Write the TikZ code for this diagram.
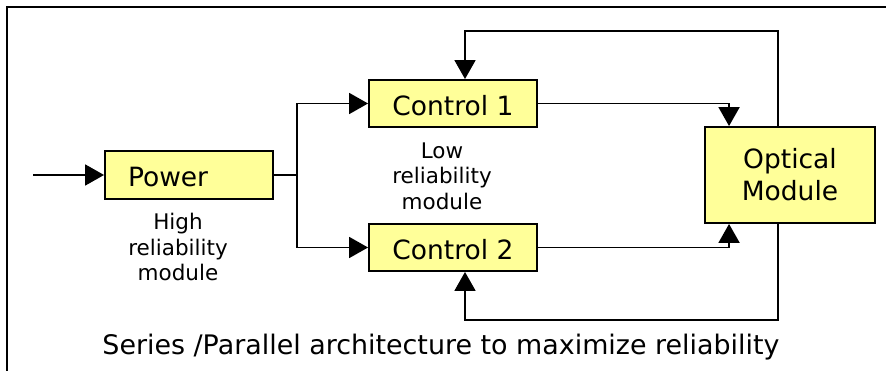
\documentclass[tikz,border=0pt]{standalone}
\usepackage{fontspec}
\setmainfont{DejaVu Sans}
\usetikzlibrary{arrows.meta,calc}
\definecolor{boxfill}{HTML}{FFFF99}
\begin{document}
\begin{tikzpicture}[x=1pt,y=-1pt,
  box/.style={draw=black, line width=1.9pt, fill=boxfill, inner sep=0pt,
    font=\fontsize{26.5}{32}\selectfont, text height=24pt, text depth=0pt},
  conn/.style={line width=1.9pt, -{Triangle[length=19pt,width=21pt]}},
  line/.style={line width=1.9pt},
  note/.style={font=\fontsize{21.5}{25.5}\selectfont, align=center, inner sep=0pt},
  frame/.style={line width=1.9pt}]
\useasboundingbox (0,0) rectangle (886,371);
\draw[frame] (7,371) -- (7,7) -- (886,7);

\node[box, minimum height=48pt, text width=122pt, inner xsep=23pt, align=left] (power) at (189,175) {Power};
\node[box, minimum width=168pt, minimum height=47pt] (c1) at (453,103.5) {Control 1};
\node[box, minimum width=168pt, minimum height=47pt] (c2) at (453,247.5) {Control 2};
\node[box, minimum width=170pt, minimum height=96pt, align=center, text height=, text depth=] (opt) at (790,175) {Optical\\Module};

\coordinate (in) at (33,175);
\coordinate (j) at (297,175);

\draw[conn] (in) -- (power);
\draw[line] (power) -- (j);
\draw[conn] (j) |- (c1);
\draw[conn] (j) |- (c2);
\draw[conn] (c1) -| ($(opt.north west)+(25,0)$);
\draw[conn] (c2) -| ($(opt.south west)+(25,0)$);
\draw[conn] ($(opt.north)+(-12,0)$) -- ++(0,-95) -| ($(c1.north)+(12,0)$);
\draw[conn] ($(opt.south)+(-12,0)$) -- ++(0,96) -| ($(c2.south)+(12,0)$);

\node[note] (hl) at (178,247) {High\\reliability\\module};
\node[note] (ll) at (442,176) {Low\\reliability\\module};
\node[font=\fontsize{26.9}{30}\selectfont, anchor=base, inner sep=0pt] (cap) at (441,354) {Series /Parallel architecture to maximize reliability};
\end{tikzpicture}
\end{document}
